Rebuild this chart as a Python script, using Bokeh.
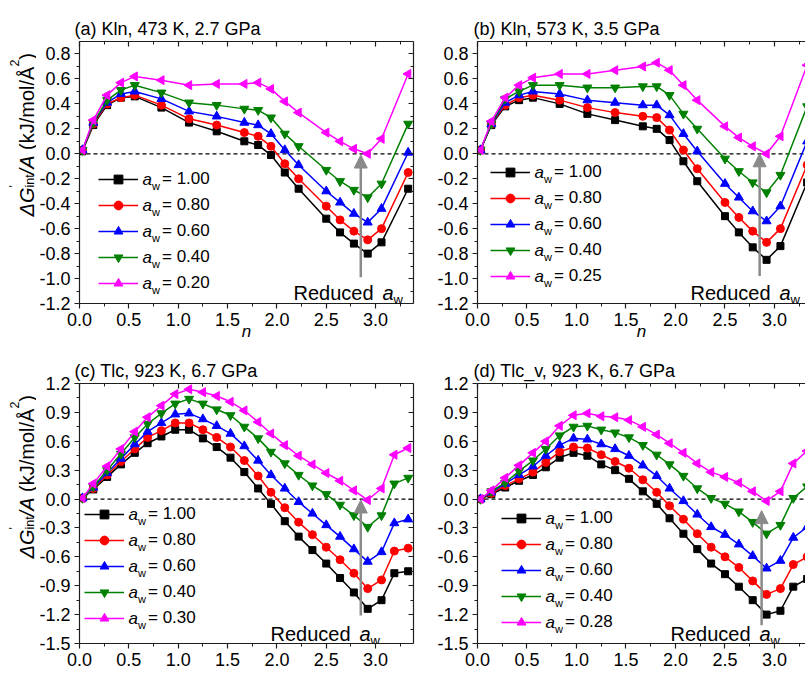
import math
from bokeh.plotting import figure
from bokeh.layouts import column, row
from bokeh.models import (Range1d, LinearAxis, FixedTicker, Span, Arrow, NormalHead,
                          Label, Legend, LegendItem, PrintfTickFormatter)
from bokeh.core.properties import value
from bokeh.embed import file_html
from bokeh.resources import INLINE

FONT = "Liberation Sans"

# ---------------- data ----------------
N_AB = [0.03, 0.14, 0.28, 0.42, 0.56, 0.83, 1.11, 1.39, 1.67, 1.81, 1.94, 2.08, 2.22,
        2.50, 2.64, 2.78, 2.92, 3.06, 3.33]
N_CD = [0.03, 0.14, 0.28, 0.42, 0.56, 0.69, 0.83, 0.97, 1.11, 1.25, 1.39, 1.53, 1.67,
        1.81, 1.94, 2.08, 2.22, 2.36, 2.50, 2.64, 2.78, 2.92, 3.06, 3.19, 3.33]

AW_A = [1.00, 0.80, 0.60, 0.40, 0.20]
AW_B = [1.00, 0.80, 0.60, 0.40, 0.25]
AW_C = [1.00, 0.80, 0.60, 0.40, 0.30]
AW_D = [1.00, 0.80, 0.60, 0.40, 0.28]

A_100 = [0.02, 0.23, 0.39, 0.45, 0.46, 0.37, 0.25, 0.18, 0.10, 0.07, -0.01, -0.15, -0.28, -0.52, -0.63, -0.72, -0.80, -0.71, -0.28]
A_080 = [0.03, 0.24, 0.40, 0.45, 0.47, 0.39, 0.28, 0.23, 0.17, 0.14, 0.06, -0.08, -0.20, -0.42, -0.53, -0.62, -0.69, -0.60, -0.15]
A_060 = [0.03, 0.25, 0.41, 0.48, 0.50, 0.44, 0.34, 0.30, 0.25, 0.23, 0.16, 0.03, -0.09, -0.30, -0.39, -0.48, -0.55, -0.44, 0.01]
A_040 = [0.03, 0.25, 0.43, 0.51, 0.55, 0.49, 0.41, 0.39, 0.36, 0.35, 0.29, 0.16, 0.06, -0.13, -0.22, -0.29, -0.35, -0.24, 0.24]
A_020 = [0.03, 0.27, 0.47, 0.57, 0.62, 0.59, 0.55, 0.56, 0.56, 0.57, 0.52, 0.42, 0.33, 0.17, 0.10, 0.04, 0.00, 0.12, 0.64]

B_100 = [0.03, 0.23, 0.38, 0.43, 0.45, 0.40, 0.32, 0.27, 0.22, 0.20, 0.11, -0.06, -0.22, -0.50, -0.63, -0.75, -0.85, -0.74, -0.23]
B_080 = [0.03, 0.24, 0.39, 0.45, 0.47, 0.43, 0.37, 0.33, 0.30, 0.29, 0.19, 0.03, -0.12, -0.39, -0.51, -0.62, -0.71, -0.60, -0.09]
B_060 = [0.03, 0.24, 0.41, 0.47, 0.50, 0.48, 0.43, 0.41, 0.39, 0.39, 0.31, 0.16, 0.02, -0.24, -0.35, -0.46, -0.54, -0.42, 0.10]
B_040 = [0.03, 0.24, 0.44, 0.50, 0.55, 0.55, 0.53, 0.53, 0.54, 0.54, 0.47, 0.32, 0.20, -0.04, -0.14, -0.23, -0.31, -0.17, 0.38]
B_025 = [0.03, 0.26, 0.45, 0.55, 0.61, 0.64, 0.64, 0.67, 0.70, 0.73, 0.67, 0.55, 0.43, 0.22, 0.13, 0.06, 0.00, 0.14, 0.71]

C_100 = [0.01, 0.10, 0.23, 0.36, 0.48, 0.58, 0.65, 0.72, 0.72, 0.63, 0.54, 0.43, 0.28, 0.11, -0.05, -0.23, -0.39, -0.53, -0.67, -0.82, -0.97, -1.14, -1.05, -0.77, -0.75]
C_080 = [0.01, 0.11, 0.25, 0.39, 0.52, 0.64, 0.71, 0.79, 0.79, 0.72, 0.64, 0.54, 0.40, 0.24, 0.07, -0.09, -0.24, -0.37, -0.50, -0.63, -0.77, -0.93, -0.84, -0.54, -0.51]
C_060 = [0.01, 0.12, 0.27, 0.42, 0.57, 0.70, 0.79, 0.88, 0.89, 0.83, 0.76, 0.68, 0.55, 0.40, 0.25, 0.11, -0.03, -0.15, -0.27, -0.39, -0.52, -0.65, -0.55, -0.25, -0.21]
C_040 = [0.01, 0.13, 0.30, 0.47, 0.64, 0.78, 0.89, 0.99, 1.04, 0.99, 0.93, 0.87, 0.75, 0.63, 0.49, 0.37, 0.25, 0.14, 0.05, -0.06, -0.17, -0.29, -0.17, 0.16, 0.22]
C_030 = [0.01, 0.16, 0.34, 0.52, 0.70, 0.85, 0.97, 1.09, 1.14, 1.11, 1.07, 1.01, 0.92, 0.80, 0.68, 0.56, 0.45, 0.36, 0.27, 0.19, 0.09, -0.01, 0.11, 0.46, 0.53]

D_100 = [0.00, 0.05, 0.12, 0.19, 0.25, 0.33, 0.43, 0.48, 0.45, 0.36, 0.30, 0.21, 0.08, -0.05, -0.20, -0.36, -0.52, -0.67, -0.78, -0.91, -1.05, -1.20, -1.16, -0.91, -0.83]
D_080 = [0.00, 0.06, 0.14, 0.21, 0.28, 0.38, 0.49, 0.54, 0.53, 0.46, 0.39, 0.32, 0.20, 0.07, -0.07, -0.21, -0.36, -0.50, -0.60, -0.71, -0.85, -0.99, -0.93, -0.68, -0.60]
D_060 = [0.00, 0.07, 0.16, 0.25, 0.34, 0.45, 0.56, 0.63, 0.62, 0.57, 0.52, 0.45, 0.35, 0.24, 0.11, -0.02, -0.16, -0.29, -0.37, -0.47, -0.59, -0.72, -0.64, -0.40, -0.29]
D_040 = [0.00, 0.08, 0.17, 0.29, 0.40, 0.52, 0.66, 0.75, 0.76, 0.72, 0.69, 0.64, 0.56, 0.46, 0.36, 0.24, 0.11, 0.01, -0.05, -0.13, -0.24, -0.36, -0.27, 0.01, 0.13]
D_028 = [0.00, 0.09, 0.22, 0.35, 0.48, 0.60, 0.76, 0.87, 0.89, 0.86, 0.85, 0.82, 0.75, 0.67, 0.58, 0.48, 0.37, 0.28, 0.23, 0.17, 0.08, -0.02, 0.08, 0.37, 0.50]

TITLES = ["(a) Kln, 473 K, 2.7 GPa", "(b) Kln, 573 K, 3.5 GPa",
          "(c) Tlc, 923 K, 6.7 GPa", "(d) Tlc_v, 923 K, 6.7 GPa"]

X_TICKS = [0.0, 0.5, 1.0, 1.5, 2.0, 2.5, 3.0]
X_MINOR = [0.25, 0.75, 1.25, 1.75, 2.25, 2.75, 3.25]
Y_TICKS_AB = [-1.2, -1.0, -0.8, -0.6, -0.4, -0.2, 0.0, 0.2, 0.4, 0.6, 0.8]
Y_MINOR_AB = [-1.1, -0.9, -0.7, -0.5, -0.3, -0.1, 0.1, 0.3, 0.5, 0.7]
Y_TICKS_CD = [-1.5, -1.2, -0.9, -0.6, -0.3, 0.0, 0.3, 0.6, 0.9, 1.2]
Y_MINOR_CD = [-1.35, -1.05, -0.75, -0.45, -0.15, 0.15, 0.45, 0.75, 1.05]

# arrows: (n, y_start, y_end)
ARROW_A = (2.85, -0.99, -0.01)
ARROW_B = (2.85, -0.98, 0.0)
ARROW_C = (2.85, -1.21, -0.01)
ARROW_D = (2.87, -1.31, -0.12)

# ---------------- style ----------------
COLORS = ["#000000", "#ff0000", "#0000ff", "#008000", "#ff00ff"]
MARKERS = ["square", "circle", "triangle", "inverted_triangle", "triangle"]
ANGLES = [0.0, 0.0, 0.0, 0.0, math.pi / 2]
SIZES = [7, 8, 9, 9, 9]
AXC = "#1e1e1e"
TICK_FS = 18

CW = {" ": 278, "(": 333, ")": 333, "/": 278, "k": 500, "J": 500, "m": 833, "o": 556,
      "l": 222, "Å": 667, "A": 667, "G": 778, "Δ": 668, "i": 222, "n": 556, "t": 278,
      "2": 556, "'": 191}


def tw(s, size):
    return sum(CW[c] for c in s) * size / 1000.0


def style_axis(ax, ticks, minor, inward, labels):
    ax.ticker = FixedTicker(ticks=ticks, minor_ticks=minor)
    ax.axis_line_color = AXC
    ax.axis_line_width = 1.2
    ax.major_tick_line_color = AXC
    ax.major_tick_line_width = 1.2
    ax.minor_tick_line_color = AXC
    ax.minor_tick_line_width = 1.0
    if inward:
        ax.major_tick_in, ax.major_tick_out = 5, 0
        ax.minor_tick_in, ax.minor_tick_out = 3, 0
    else:
        ax.major_tick_in, ax.major_tick_out = 0, 5
        ax.minor_tick_in, ax.minor_tick_out = 0, 3
    if labels:
        ax.formatter = PrintfTickFormatter(format="%.1f")
        ax.major_label_text_font = FONT
        ax.major_label_text_font_size = f"{TICK_FS}px"
        ax.major_label_text_color = "black"
        ax.major_label_standoff = 4
    else:
        ax.major_label_text_font_size = "0px"
        ax.major_label_text_alpha = 0
        ax.major_label_standoff = 0


def lab(p, text, x, y, size, style="normal", align="left", baseline="alphabetic", angle=0.0):
    p.add_layout(Label(x=x, y=y, x_units="screen", y_units="screen", text=text,
                       text_font=FONT, text_font_size=f"{size}px",
                       text_font_style=style, text_align=align, text_baseline=baseline,
                       text_color="black", angle=angle))


STRIP_W = 36


def label_strip(height, bx, y0):
    """narrow figure holding the rotated y-axis title"""
    s = figure(width=STRIP_W, height=height, x_range=Range1d(0, 1), y_range=Range1d(0, 1),
               output_backend="svg", toolbar_location=None,
               x_axis_location=None, y_axis_location=None,
               min_border_left=0, min_border_right=0, min_border_top=0, min_border_bottom=0)
    s.outline_line_color = None
    s.grid.visible = False
    F, S = 20, 12.5
    up = math.pi / 2
    y = y0
    lab(s, "ΔG", bx, y, F, "italic", angle=up)
    y += tw("ΔG", F)
    lab(s, "'", bx - 0.62 * F, y, S, angle=up)
    lab(s, "int", bx + 0.15 * F, y, S, angle=up)
    y += tw("int", S)
    lab(s, "/A", bx, y, F, "italic", angle=up)
    y += tw("/A ", F)
    lab(s, "(kJ/mol/Å", bx, y, F, angle=up)
    y += tw("(kJ/mol/Å", F)
    lab(s, "2", bx - 0.62 * F, y, S, angle=up)
    y += tw("2", S)
    lab(s, ")", bx, y, F, angle=up)
    return s


def make_panel(title, n, series, aw, yr, yt, ym, size, borders, xe, right_axis,
               leg_xy, red_xy, arrow, title_off, xlabel=True):
    W, H = size
    bl, br, bt, bb = borders
    p = figure(width=W, height=H, x_range=Range1d(0, xe), y_range=Range1d(*yr),
               output_backend="svg", toolbar_location=None, title=title,
               min_border_left=bl, min_border_right=br, min_border_top=bt, min_border_bottom=bb)
    p.title.align = "left"
    p.title.offset = title_off
    p.title.text_font = FONT
    p.title.text_font_size = "18px"
    p.title.text_font_style = "normal"
    p.title.text_color = "black"
    p.title.standoff = 6
    p.xgrid.visible = False
    p.ygrid.visible = False
    p.outline_line_color = None
    p.background_fill_color = "white"
    p.border_fill_color = "white"
    style_axis(p.xaxis[0], X_TICKS, X_MINOR, False, True)
    style_axis(p.yaxis[0], yt, ym, False, True)
    if xlabel:
        xa = p.xaxis[0]
        xa.axis_label = "n"
        xa.axis_label_text_font = FONT
        xa.axis_label_text_font_size = "17px"
        xa.axis_label_text_font_style = "italic"
        xa.axis_label_text_color = "black"
        xa.axis_label_standoff = -7
    top = LinearAxis()
    style_axis(top, X_TICKS, X_MINOR, True, False)
    p.add_layout(top, "above")
    if right_axis:
        ra = LinearAxis()
        style_axis(ra, yt, ym, True, False)
        p.add_layout(ra, "right")

    zero = Span(location=0, dimension="width", line_color="black", line_width=1.2,
                line_dash="4 3", level="underlay")
    p.add_layout(zero)

    items = []
    for i, ys in enumerate(series):
        rl = p.line(n, ys, line_color=COLORS[i], line_width=1.5)
        rs = p.scatter(n, ys, marker=MARKERS[i], size=SIZES[i], angle=ANGLES[i],
                       fill_color=COLORS[i], line_color=COLORS[i])
        items.append(LegendItem(label=value(f"= {aw[i]:.2f}"), renderers=[rl, rs]))

    vx, vy = leg_xy
    gw, gh, sp = 40, 22, 4
    leg = Legend(items=items, location=(vx, vy), glyph_width=gw, glyph_height=gh,
                 label_height=gh, spacing=sp, padding=0, margin=0, label_standoff=24,
                 border_line_color=None, background_fill_alpha=0,
                 label_text_font=FONT, label_text_font_size="17px", label_text_color="black")
    p.add_layout(leg)
    lh = 5 * gh + 4 * sp
    for i in range(5):
        yc = vy + lh - gh / 2 - i * (gh + sp)
        lab(p, "a", vx + gw + 4, yc, 17, "italic", baseline="middle")
        lab(p, "w", vx + gw + 13.5, yc - 6, 11, baseline="middle")

    ax_, y_s, y_e = arrow
    p.add_layout(Arrow(end=NormalHead(size=13, fill_color="#8a8a8a", line_color="#8a8a8a"),
                       x_start=ax_, y_start=y_s, x_end=ax_, y_end=y_e,
                       line_color="#8a8a8a", line_width=2.5))

    rx, ry = red_xy
    lab(p, "Reduced", rx, ry, 20)
    lab(p, "a", rx + 89, ry, 20, "italic")
    lab(p, "w", rx + 100, ry - 7, 13)
    return p


FW = 335  # full frame width in px
XE_FULL = 3.384
XE_CUT = XE_FULL * 328 / FW

sa = label_strip(345, 26, 87)
pa = make_panel(TITLES[0], N_AB, [A_100, A_080, A_060, A_040, A_020], AW_A,
                (-1.2, 0.9), Y_TICKS_AB, Y_MINOR_AB, (381, 345), (42, 4, 41, 42),
                XE_FULL, True, (19, 9), (214, 11), ARROW_A, -5)
pb = make_panel(TITLES[1], N_AB, [B_100, B_080, B_060, B_040, B_025], AW_B,
                (-1.2, 0.9), Y_TICKS_AB, Y_MINOR_AB, (388, 345), (60, 0, 41, 42),
                XE_CUT, False, (13, 16), (213, 11), ARROW_B, -4)
sc = label_strip(335, 26, 85)
pc = make_panel(TITLES[2], N_CD, [C_100, C_080, C_060, C_040, C_030], AW_C,
                (-1.5, 1.2), Y_TICKS_CD, Y_MINOR_CD, (381, 335), (42, 4, 38, 37),
                XE_FULL, True, (5, 14), (191, 10), ARROW_C, -5, xlabel=False)
pd_ = make_panel(TITLES[3], N_CD, [D_100, D_080, D_060, D_040, D_028], AW_D,
                 (-1.5, 1.2), Y_TICKS_CD, Y_MINOR_CD, (388, 335), (60, 0, 38, 37),
                 XE_CUT, False, (24, 10), (193, 10), ARROW_D, -4, xlabel=False)

layout = column(row(sa, pa, pb, spacing=0), row(sc, pc, pd_, spacing=0), spacing=0)
open("out.html", "w").write(file_html(layout, INLINE))
